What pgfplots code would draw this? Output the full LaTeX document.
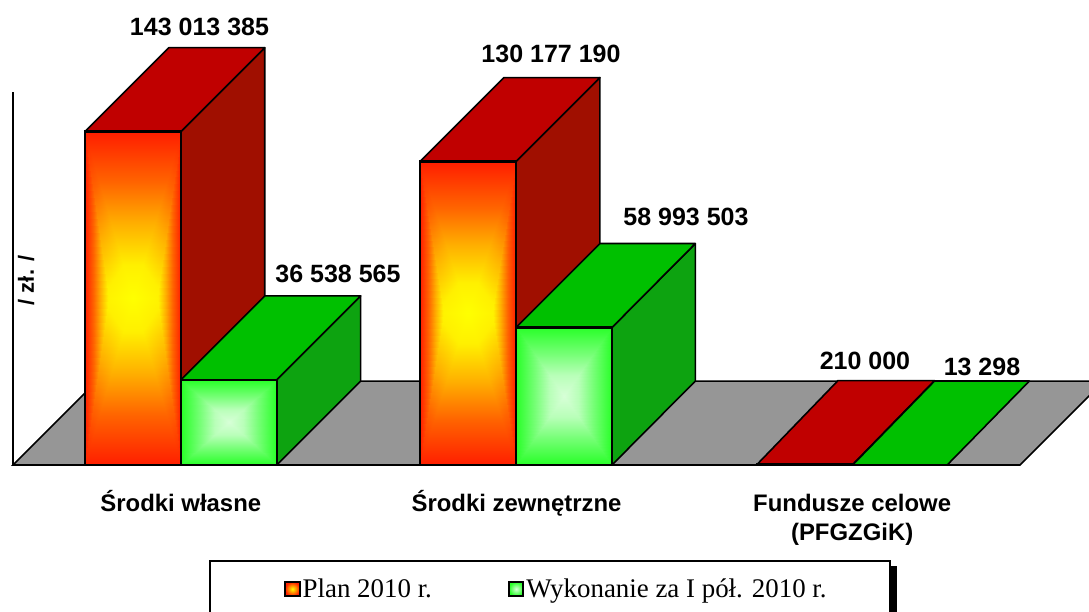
\documentclass[border=0pt]{standalone}
\usepackage{pgfplots}
\pgfplotsset{compat=1.18}
\usepackage{fontspec}
\setmainfont{Liberation Sans}
\newfontfamily\legendfont{Liberation Serif}
\definecolor{floorgray}{RGB}{150,150,150}
\definecolor{redtop}{RGB}{192,0,0}
\definecolor{redside}{RGB}{160,15,0}
\definecolor{greentop}{RGB}{0,192,0}
\definecolor{greenside}{RGB}{13,163,16}
\pgfplotsset{
  colormap={fire}{rgb255(0)=(255,30,0) rgb255(0.3)=(255,100,0) rgb255(0.55)=(255,175,0) rgb255(0.8)=(255,240,0) rgb255(1)=(255,255,0)},
  colormap={mint}{rgb255(0)=(40,255,40) rgb255(0.4)=(120,255,120) rgb255(0.7)=(185,255,185) rgb255(1)=(215,255,215)},
  front/.style={forget plot,patch,patch type=triangle,shader=interp,point meta=explicit},
  edge/.style={forget plot,draw=black,line width=2.4pt,line join=miter,mark=none},
  face/.style={forget plot,draw=black,line width=1.6pt,line join=round,mark=none},
}
\newcommand{\vlab}[3]{\node[font=\bfseries\fontsize{25}{28}\selectfont,inner sep=0pt] at (axis cs:#1,#2) {#3};}
\begin{document}
\begin{tikzpicture}
\fill[black] (210pt,-10pt) ++(687pt,0) rectangle (890pt,46pt);
\draw[black,line width=2.4pt,fill=white] (210pt,-10pt) rectangle (890pt,51pt);
\begin{axis}[
  at={(13pt,147pt)},anchor=south west,scale only axis,
  width=1007pt,height=373pt,
  xmin=0,xmax=3,ymin=0,ymax=160000000,
  clip=false,
  axis lines=left,
  axis line style={black,line width=2.6pt,-},
  ytick=\empty,
  xtick={0.5,1.5,2.5},
  xticklabels={Środki własne,Środki zewnętrzne,{\vphantom{Ś}Fundusze celowe\\(PFGZGiK)}},
  x tick style={draw=none},
  xticklabel style={font=\bfseries\fontsize{23.9}{29}\selectfont,align=center,anchor=north,yshift=-20pt},
  ylabel={/ zł. /},
  ylabel style={font=\bfseries\fontsize{22}{24}\selectfont,at={(axis description cs:0.013,0.495)},anchor=center,rotate=0},
  point meta min=0,point meta max=1,
  legend columns=2,
  legend style={draw=none,fill=none,at={(0.2691,-0.3324)},anchor=west,inner sep=0pt,
    font=\legendfont\fontsize{26.9}{30}\selectfont,
    /tikz/column 2/.style={column sep=74pt}},
  legend cell align=left,
]
% floor
\addplot[forget plot,fill=floorgray,draw=black,line width=1.6pt] coordinates {(0,0)(0.25,36000000)(3.25,36000000)(3,0)} -- cycle;

% Plan, group 1
\addplot[face,fill=redside] coordinates {(0.5,0)(0.75,36000000)(0.75,179013385)(0.5,143013385)} -- cycle;
\addplot[face,fill=redtop] coordinates {(0.2143,143013385)(0.5,143013385)(0.75,179013385)(0.4643,179013385)} -- cycle;
\addplot[front,colormap name=fire] table[meta=m] {
x y m
0.2143 0 0
0.5 0 0
0.35715 71506692 1
0.5 143013385 0
0.2143 143013385 0
0.35715 71506692 1
0.2143 0 0
0.2143 143013385 0
0.2857 71506692 0.85
0.2143 0 0
0.2857 71506692 0.85
0.35715 71506692 1
0.2143 143013385 0
0.2857 71506692 0.85
0.35715 71506692 1
0.5 0 0
0.5 143013385 0
0.4286 71506692 0.85
0.5 0 0
0.4286 71506692 0.85
0.35715 71506692 1
0.5 143013385 0
0.4286 71506692 0.85
0.35715 71506692 1
};
\addplot[edge] coordinates {(0.2143,0)(0.5,0)(0.5,143013385)(0.2143,143013385)} -- cycle;
% Wykonanie, group 1
\addplot[face,fill=greenside] coordinates {(0.7857,0)(1.0357,36000000)(1.0357,72538565)(0.7857,36538565)} -- cycle;
\addplot[face,fill=greentop] coordinates {(0.5,36538565)(0.7857,36538565)(1.0357,72538565)(0.75,72538565)} -- cycle;
\addplot[front,colormap name=mint] table[meta=m] {
x y m
0.5 0 0
0.7857 0 0
0.64285 18269282 1
0.7857 0 0
0.7857 36538565 0
0.64285 18269282 1
0.7857 36538565 0
0.5 36538565 0
0.64285 18269282 1
0.5 36538565 0
0.5 0 0
0.64285 18269282 1
};
\addplot[edge] coordinates {(0.5,0)(0.7857,0)(0.7857,36538565)(0.5,36538565)} -- cycle;

% Plan, group 2
\addplot[face,fill=redside] coordinates {(1.4985,0)(1.7485,36000000)(1.7485,166177190)(1.4985,130177190)} -- cycle;
\addplot[face,fill=redtop] coordinates {(1.2127,130177190)(1.4985,130177190)(1.7485,166177190)(1.4627,166177190)} -- cycle;
\addplot[front,colormap name=fire] table[meta=m] {
x y m
1.2127 0 0
1.4985 0 0
1.3556 65088595 1
1.4985 130177190 0
1.2127 130177190 0
1.3556 65088595 1
1.2127 0 0
1.2127 130177190 0
1.2841 65088595 0.85
1.2127 0 0
1.2841 65088595 0.85
1.3556 65088595 1
1.2127 130177190 0
1.2841 65088595 0.85
1.3556 65088595 1
1.4985 0 0
1.4985 130177190 0
1.4270 65088595 0.85
1.4985 0 0
1.4270 65088595 0.85
1.3556 65088595 1
1.4985 130177190 0
1.4270 65088595 0.85
1.3556 65088595 1
};
\addplot[edge] coordinates {(1.2127,0)(1.4985,0)(1.4985,130177190)(1.2127,130177190)} -- cycle;
% Wykonanie, group 2
\addplot[face,fill=greenside] coordinates {(1.7845,0)(2.0327,36000000)(2.0327,94993503)(1.7845,58993503)} -- cycle;
\addplot[face,fill=greentop] coordinates {(1.4985,58993503)(1.7845,58993503)(2.0327,94993503)(1.7485,94993503)} -- cycle;
\addplot[front,colormap name=mint] table[meta=m] {
x y m
1.4985 0 0
1.7845 0 0
1.6415 29496751 1
1.7845 0 0
1.7845 58993503 0
1.6415 29496751 1
1.7845 58993503 0
1.4985 58993503 0
1.6415 29496751 1
1.4985 58993503 0
1.4985 0 0
1.6415 29496751 1
};
\addplot[edge] coordinates {(1.4985,0)(1.7845,0)(1.7845,58993503)(1.4985,58993503)} -- cycle;

% Group 3: almost zero height
\addplot[face,fill=redtop] coordinates {(2.2164,210000)(2.5015,210000)(2.7453,36210000)(2.4578,36210000)} -- cycle;
\addplot[edge] coordinates {(2.2164,0)(2.5015,0)(2.5015,210000)(2.2164,210000)} -- cycle;
\addplot[face,fill=greentop] coordinates {(2.5015,13298)(2.7832,13298)(3.028,36013298)(2.7453,36013298)} -- cycle;
\addplot[edge] coordinates {(2.5015,0)(2.7832,0)(2.7832,13298)(2.5015,13298)} -- cycle;

\vlab{0.5556}{187900000}{143 013 385}
\vlab{0.9682}{81930000}{36 538 565}
\vlab{1.6028}{176300000}{130 177 190}
\vlab{2.005}{106380000}{58 993 503}
\vlab{2.5382}{44600000}{210 000}
\vlab{2.8868}{42040000}{13 298}

\addlegendimage{legend image code/.code={\draw[line width=2pt,black,inner color=yellow,outer color={rgb,255:red,255;green,34;blue,0}] (0pt,-7pt) rectangle (14.5pt,7pt);}}
\addlegendentry{Plan 2010 r.}
\addlegendimage{legend image code/.code={\draw[line width=2pt,black,inner color={rgb,255:red,215;green,255;blue,215},outer color={rgb,255:red,40;green,255;blue,40}] (0pt,-7pt) rectangle (14.5pt,7pt);}}
\addlegendentry{Wykonanie za I pół. 2010 r.}
\end{axis}
\pgfresetboundingbox
\useasboundingbox (0pt,0pt) rectangle (1089pt,612pt);
\end{tikzpicture}
\end{document}
